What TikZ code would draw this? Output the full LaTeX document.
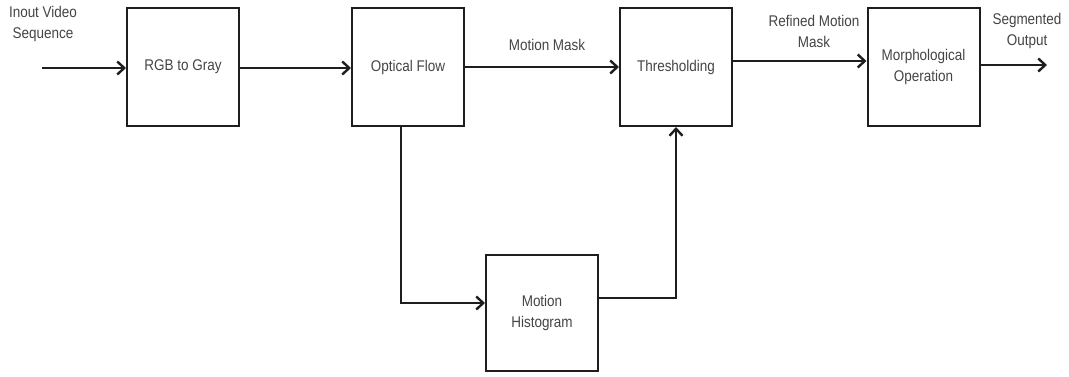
\documentclass[tikz,border=0pt]{standalone}
\usepackage{fontspec}
\setmainfont[FakeStretch=0.87]{Liberation Sans}
\usetikzlibrary{arrows.meta}
\definecolor{txt}{HTML}{444444}
\definecolor{ln}{HTML}{1E1E1E}
\begin{document}
\begin{tikzpicture}[x=1pt,y=-1pt,
  blk/.style={draw=ln,line width=2pt,minimum width=112pt,minimum height=118pt,inner sep=0pt,align=center,text=txt,font=\fontsize{15.5}{21}\selectfont},
  lbl/.style={align=center,text=txt,font=\fontsize{15.5}{21}\selectfont,inner sep=0pt},
  conn/.style={draw=ln,line width=2.6pt,-{Straight Barb[length=7pt,width=13pt,line width=2.4pt]}},
  plain/.style={draw=ln,line width=2.6pt}]
\useasboundingbox (0,0) rectangle (1069,376);
\node[blk] (rgb) at (183,67) {RGB to Gray};
\node[blk] (of) at (408,67) {Optical Flow};
\node[blk] (th) at (676,67) {Thresholding};
\node[blk] (mo) at (923.5,67) {Morphological\\Operation};
\node[blk,minimum height=116pt] (mh) at (542,313) {Motion\\Histogram};
\coordinate (in) at (42,68);
\coordinate (out) at (1047,65);
\coordinate (ofd) at (401,303);
\coordinate (mhr) at (676,298);
\node[lbl] (lin) at (43,24) {Inout Video\\Sequence};
\node[lbl] (lmm) at (547,45) {Motion Mask};
\node[lbl] (lrm) at (814,31) {Refined Motion\\Mask};
\node[lbl] (lso) at (1027,31) {Segmented\\Output};
\draw[conn] (in) -- (in -| rgb.west);
\draw[conn] (rgb.east |- 0,68) -- (of.west |- 0,68);
\draw[conn] (of.east) -- (th.west);
\draw[conn] (th.east |- 0,61) -- (mo.west |- 0,61);
\draw[conn] (mo.east |- out) -- (out);
\draw[conn] (of.south -| ofd) -- (ofd) -- (ofd -| mh.west);
\draw[conn] (mh.east |- mhr) -- (mhr) -- (th.south);
\end{tikzpicture}
\end{document}
